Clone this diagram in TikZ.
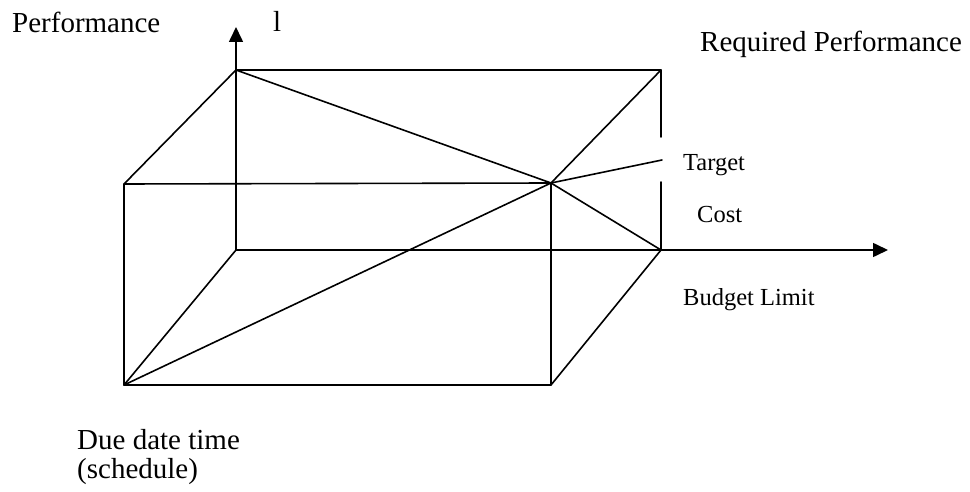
\documentclass[tikz,border=0pt]{standalone}
\usepackage{fontspec}
\setmainfont{Liberation Serif}
\usetikzlibrary{arrows.meta}
\begin{document}
\begin{tikzpicture}[x=1bp,y=-1bp,
  edge/.style={line width=1.6bp,black,line cap=round,line join=round},
  axis/.style={edge,-{Triangle[length=15bp,width=14bp]}},
  biglabel/.style={anchor=base west,inner sep=0pt,font=\fontsize{29bp}{33bp}\selectfont},
  smalllabel/.style={anchor=base west,inner sep=0pt,font=\fontsize{24.5bp}{28bp}\selectfont}]
\useasboundingbox (0,0) rectangle (970,492);
% points
\coordinate (O) at (236,250);
\coordinate (Ytip) at (236,27);
\coordinate (Xtip) at (888,250);
\coordinate (BTL) at (236,70);
\coordinate (BTR) at (661,70);
\coordinate (BBR) at (661,250);
\coordinate (BRa) at (661,137);
\coordinate (BRb) at (661,182);
\coordinate (FTL) at (124,184);
\coordinate (FTR) at (551,183);
\coordinate (FBL) at (124,385);
\coordinate (FBR) at (551,385);
\coordinate (Tend) at (662,160);
% axes
\draw[axis] (O) -- (Ytip);
\draw[axis] (O) -- (Xtip);
% back face
\draw[edge] (BTL) -- (BTR) -- (BRa);
\draw[edge] (BRb) -- (BBR);
% front face
\draw[edge] (FTL) -- (FTR) -- (FBR) -- (FBL) -- cycle;
% depth edges
\draw[edge] (FTL) -- (BTL);
\draw[edge] (FTR) -- (BTR);
\draw[edge] (FBR) -- (BBR);
\draw[edge] (FBL) -- (O);
% diagonals
\draw[edge] (BTL) -- (FTR);
\draw[edge] (FBL) -- (FTR);
\draw[edge] (FTR) -- (BBR);
\draw[edge] (FTR) -- (Tend);
% labels
\node[biglabel] (perf) at (12,33) {Performance};
\node[biglabel] (mark) at (273,32) {l};
\node[biglabel] (req) at (700,52) {Required Performance};
\node[smalllabel] (target) at (683,171) {Target};
\node[smalllabel] (cost) at (697,223) {Cost};
\node[smalllabel] (budget) at (683,306) {Budget Limit};
\node[biglabel] (due) at (77,449) {Due date time};
\node[biglabel] (sched) at (77,478) {(schedule)};
\end{tikzpicture}
\end{document}
